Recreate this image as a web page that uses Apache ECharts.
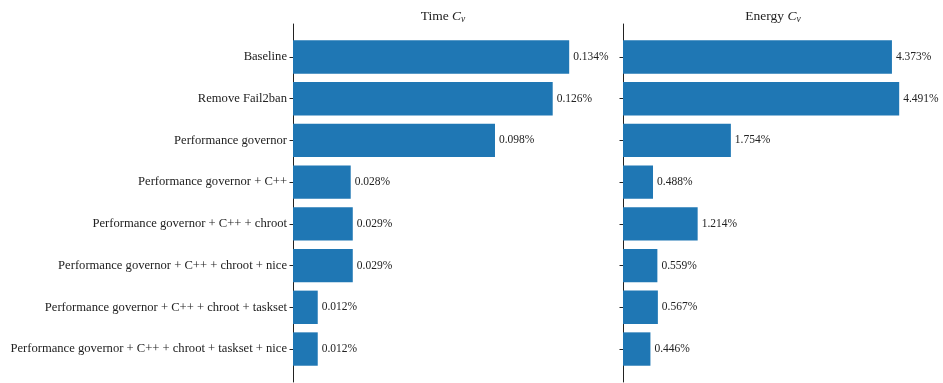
<!DOCTYPE html>
<html>
<head>
<meta charset="utf-8">
<script src="https://cdn.jsdelivr.net/npm/echarts@6/dist/echarts.min.js"></script>
<style>
  html, body { margin: 0; padding: 0; background: #fff; }
  #chart { width: 943px; height: 383px; }
</style>
</head>
<body>
<div id="chart"></div>
<script>
// Configurations, top to bottom
const categories = [
  'Baseline',
  'Remove Fail2ban',
  'Performance governor',
  'Performance governor + C++',
  'Performance governor + C++ + chroot',
  'Performance governor + C++ + chroot + nice',
  'Performance governor + C++ + chroot + taskset',
  'Performance governor + C++ + chroot + taskset + nice'
];
// Coefficient of variation, in percent
const timeCv = [0.134, 0.126, 0.098, 0.028, 0.029, 0.029, 0.012, 0.012];
const energyCv = [4.373, 4.491, 1.754, 0.488, 1.214, 0.559, 0.567, 0.446];

const FONT = '"Liberation Serif", "DejaVu Serif", serif';
const BAR = '#1f77b4';
const BAR_HEIGHT = 0.8;
const tickIdx = categories.map((_, i) => i);

function barItem(params, api) {
  const v = api.value(0);
  const idx = api.value(1);
  const p0 = api.coord([0, idx]);
  const p1 = api.coord([v, idx]);
  const h = api.size([0, BAR_HEIGHT])[1];
  return {
    type: 'rect',
    shape: { x: p0[0], y: p0[1] - h / 2, width: p1[0] - p0[0], height: h },
    style: { fill: BAR },
    textContent: {
      style: { text: v.toFixed(3) + '%', font: '11.5px ' + FONT, fill: '#222' }
    },
    textConfig: { position: 'right', distance: 4 }
  };
}

function yAxis(gridIndex, withLabels) {
  const n = categories.length;
  return {
    type: 'value', gridIndex, inverse: true,
    min: -0.4 - 0.05 * (n - 0.2), max: n - 0.6 + 0.05 * (n - 0.2),
    splitLine: { show: false },
    axisLine: { show: true, lineStyle: { color: '#222', width: 1 } },
    axisTick: { show: true, customValues: tickIdx, length: 3.5, lineStyle: { color: '#222' } },
    axisLabel: {
      show: withLabels, customValues: tickIdx, margin: 6,
      formatter: v => categories[Math.round(v)] || '',
      fontFamily: FONT, fontSize: 12.6, color: '#222'
    }
  };
}

const timeMax = Math.max(...timeCv) * 1.05;
const energyMax = Math.max(...energyCv) * 1.05;

const rich = {
  n: { fontFamily: FONT, fontSize: 13.5, fontWeight: 'normal', color: '#222' },
  i: { fontFamily: FONT, fontSize: 13.5, fontWeight: 'normal', fontStyle: 'italic', color: '#222' },
  s: { fontFamily: FONT, fontSize: 9.5, fontWeight: 'normal', fontStyle: 'italic', color: '#222', verticalAlign: 'bottom', padding: [6, 0, 0, 0] }
};

const chart = echarts.init(document.getElementById('chart'), null, { renderer: 'canvas' });
chart.setOption({
  animation: false,
  backgroundColor: '#fff',
  title: [
    { text: '{n|Time }{i|C}{s|v}', left: 438, top: 3, textAlign: 'center', textStyle: { fontWeight: 'normal', rich } },
    { text: '{n|Energy }{i|C}{s|v}', left: 768, top: 3, textAlign: 'center', textStyle: { fontWeight: 'normal', rich } }
  ],
  grid: [
    { left: 293, width: 290, top: 24, height: 358 },
    { left: 623, width: 290, top: 24, height: 358 }
  ],
  xAxis: [
    { type: 'value', gridIndex: 0, min: 0, max: timeMax, show: false },
    { type: 'value', gridIndex: 1, min: 0, max: energyMax, show: false }
  ],
  yAxis: [yAxis(0, true), yAxis(1, false)],
  series: [
    {
      type: 'custom', xAxisIndex: 0, yAxisIndex: 0, renderItem: barItem,
      encode: { x: 0, y: 1 },
      data: timeCv.map((v, i) => [v, i])
    },
    {
      type: 'custom', xAxisIndex: 1, yAxisIndex: 1, renderItem: barItem,
      encode: { x: 0, y: 1 },
      data: energyCv.map((v, i) => [v, i])
    }
  ]
});
</script>
</body>
</html>
